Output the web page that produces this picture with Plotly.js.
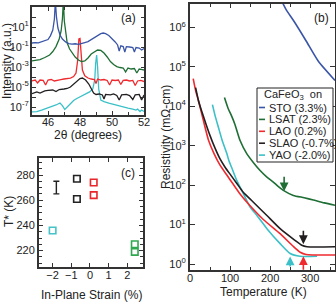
<!DOCTYPE html>
<html>
<head>
<meta charset="utf-8">
<script src="https://cdn.plot.ly/plotly-3.0.1.min.js"></script>
<style>html,body{margin:0;padding:0;background:#fff;}#chart{width:336px;height:303px;}</style>
</head>
<body>
<div id="chart"></div>
<script>
// ---------- Panel (a): XRD intensity vs 2theta ----------
const stoX = [45.0,45.2,45.4,45.6,45.8,46.0,46.15,46.3,46.4,46.46,46.53,46.62,46.75,46.9,47.1,47.3,47.5,47.7,47.9,48.1,48.3,48.5,48.7,48.9,49.1,49.3,49.45,49.6,49.8,50.0,50.2,50.35,50.45,50.55,50.7,50.8,50.9,51.1,51.3,51.4,51.5,51.7,51.85,52.0];
const stoI = [2.5e-1,2.8e-1,2.6e-1,3.2e-1,4.0e-1,5.6e-1,1.3,5.0,63,4000,100,7.9,1.6,6.3e-1,3.2e-1,2.2e-1,1.9e-1,2.1e-1,1.8e-1,2.4e-1,2.8e-1,3.5e-1,5.6e-1,1.0,1.6,2.2,2.5,2.2,1.4,7.1e-1,3.2e-1,1.6e-1,4.0e-2,1.3e-1,1.1e-1,3.2e-2,1.1e-1,1.0e-1,8.9e-2,3.2e-2,8.9e-2,7.9e-2,5.0e-2,7.1e-2];

const lsatX = [45.0,45.3,45.5,45.8,46.1,46.3,46.5,46.7,46.82,46.9,46.96,47.02,47.1,47.2,47.35,47.5,47.7,47.9,48.1,48.3,48.5,48.7,48.9,49.1,49.3,49.5,49.7,49.9,50.1,50.3,50.5,50.7,50.85,51.0,51.2,51.4,51.55,51.7,51.9,52.0];
const lsatI = [4.0e-3,4.5e-3,5.6e-3,8.9e-3,1.6e-2,3.5e-2,1.1e-1,6.3e-1,4.0,63,4000,40,2.0,2.5e-1,6.3e-2,2.5e-2,1.0e-2,5.0e-3,3.5e-3,4.0e-3,7.9e-3,2.0e-2,3.5e-2,5.0e-2,4.5e-2,2.5e-2,1.0e-2,3.5e-3,1.8e-3,1.1e-3,8.9e-4,7.9e-4,3.2e-4,7.9e-4,6.3e-4,7.1e-4,2.5e-4,6.3e-4,5.6e-4,5.0e-4];

const laoX = [45.0,45.2,45.35,45.5,45.7,45.85,46.0,46.2,46.4,46.6,46.8,47.0,47.2,47.4,47.6,47.75,47.85,47.93,48.0,48.07,48.15,48.3,48.5,48.7,48.9,49.0,49.1,49.3,49.5,49.7,49.85,50.0,50.2,50.4,50.55,50.7,50.9,51.1,51.3,51.45,51.6,51.8,52.0];
const laoI = [4.0e-5,5.0e-5,2.5e-5,5.0e-5,4.5e-5,1.6e-5,5.0e-5,5.6e-5,4.0e-5,5.0e-5,5.6e-5,6.3e-5,7.1e-5,7.9e-5,1.1e-4,2.5e-4,4.0e-3,6.3e-1,7.1e-1,3.2e-2,5.0e-4,1.3e-4,7.9e-5,6.3e-5,5.6e-5,2.2e-5,6.3e-5,5.0e-5,5.6e-5,4.5e-5,1.6e-5,5.0e-5,4.5e-5,5.0e-5,1.8e-5,4.5e-5,5.0e-5,4.0e-5,4.5e-5,1.4e-5,4.0e-5,4.5e-5,3.5e-5];

const slaoX = [45.0,45.3,45.5,45.8,46.0,46.3,46.5,46.7,47.0,47.2,47.4,47.6,47.8,48.0,48.15,48.35,48.55,48.7,48.85,49.0,49.2,49.4,49.5,49.6,49.9,50.1,50.3,50.45,50.6,50.9,51.1,51.3,51.45,51.7,51.85,52.0];
const slaoI = [2.2e-6,3.2e-6,2.5e-6,4.0e-6,4.5e-6,5.0e-6,3.5e-6,5.6e-6,6.3e-6,7.1e-6,1.0e-5,1.8e-5,3.5e-5,7.1e-5,7.9e-5,5.0e-5,2.0e-5,7.9e-6,2.5e-6,1.8e-6,2.0e-6,1.6e-6,6.3e-7,1.8e-6,1.6e-6,2.0e-6,1.4e-6,5.0e-7,1.6e-6,1.8e-6,1.4e-6,5.6e-7,1.6e-6,1.8e-6,5.0e-7,1.6e-6];

const yaoX = [45.0,45.3,45.6,45.9,46.2,46.5,46.75,46.9,47.05,47.2,47.4,47.6,47.8,48.0,48.2,48.4,48.6,48.8,48.92,48.98,49.04,49.1,49.17,49.3,49.5,49.8,50.1,50.4,50.7,51.0,51.3,51.5,51.6,51.75,51.85,52.0];
const yaoI = [3.2e-8,3.5e-8,5.0e-8,7.1e-8,1.0e-7,1.6e-7,2.5e-7,1.4e-7,5.6e-8,1.0e-7,2.5e-7,4.5e-7,7.1e-7,1.0e-6,1.4e-6,2.0e-6,3.2e-6,6.3e-6,5.0e-5,2.5e-3,1.6e-2,1.0e-3,6.3e-6,5.0e-7,3.5e-7,2.5e-7,1.8e-7,1.3e-7,1.0e-7,7.9e-8,6.3e-8,5.0e-8,6.3e-8,3.5e-8,5.0e-8,3.5e-8];

const xrdTickVals = [1e-7,1e-6,1e-5,1e-4,1e-3,1e-2,1e-1,1,10,100,1000];
const xrdTickText = ['10<sup>-7</sup>',' ','10<sup>-5</sup>',' ','10<sup>-3</sup>',' ','10<sup>-1</sup>',' ','10<sup>1</sup>',' ','10<sup>3</sup>'];

// ---------- Panel (b): resistivity vs temperature ----------
const stoT = [225,240,260,290,320,362];
const stoR = [5.6e6,2.8e6,1.4e6,4.5e5,1.4e5,4.5e4];
const lsatT = [86,95,104,112,125,142,160,175,192,208,220,233,258,285,308,335,362];
const lsatR = [1.66e4,8.9e3,5.6e3,3.5e3,1.35e3,6.2e2,3.55e2,2.35e2,1.6e2,1.2e2,93,74,55,48,42,35.5,31];
const laoT = [8,14,21,33,46,60,75,92,108,125,150,183,225,258,275,290,362];
const laoR = [5.0e4,2.5e4,1.4e4,4.5e3,1.4e3,6.3e2,3.2e2,1.8e2,1.05e2,60,30,13.5,5.9,2.8,2.0,1.75,1.7];
const slaoT = [14,21,29,40,50,62,75,88,100,117,133,157,192,225,262,279,292,362];
const slaoR = [2.95e4,1.4e4,7.6e3,3.5e3,1.8e3,8.9e2,4.6e2,2.8e2,1.9e2,1.1e2,66,38,17,7.9,4.0,3.0,2.75,2.75];
const yaoT = [56,63,71,80,92,97,104,117,130,142,150,168,192,225,250,275,317];
const yaoR = [1.1e4,5.6e3,2.9e3,1.4e3,6.3e2,4.2e2,2.8e2,1.3e2,71,40,28,16.6,7.9,3.3,1.86,1.58,1.58];

const resTickVals = [1,10,100,1000,1e4,1e5,1e6];
const resTickText = ['10<sup>0</sup>','10<sup>1</sup>','10<sup>2</sup>','10<sup>3</sup>','10<sup>4</sup>','10<sup>5</sup>','10<sup>6</sup>'];

// arrows marking T* : [LSAT, SLAO, LAO, YAO]
const arrowT    = [235, 283, 283, 250];
const arrowTip  = [70, 3.2, 1.58, 1.55];
const arrowTail = [178, 7.6, 0.66, 0.79];

const legendTitle = 'CaFeO<sub>3</sub>  on';
const legendNames = ['STO (3.3%)','LSAT (2.3%)','LAO (0.2%)','SLAO (-0.7%)','YAO (-2.0%)'];

// ---------- Panel (c): T* vs in-plane strain ----------
const strainBlack = [-0.7,-0.7];  const tstarBlack = [277,261];
const strainRed   = [0.2,0.2];    const tstarRed   = [274,264];
const strainCyan  = [-2.0];       const tstarCyan  = [236];
const strainGreen = [2.4,2.4];    const tstarGreen = [225,219];
const errStrain = [-1.8]; const errT = [270]; const errSize = [5];

// ---------- styling ----------
const C = {sto:'#3a55a8', lsat:'#1f6e35', lao:'#ee2a2f', slao:'#231f20', yao:'#3cc0c8'};
const legendColors = [C.sto, C.lsat, C.lao, C.slao, C.yao];
const CC = {black:'#222222', red:'#e8262b', cyan:'#45c3c8', green:'#2fa84f'};
const FONT = 'Liberation Sans, Arial, Helvetica, sans-serif';
const W = 336, H = 303;
const PX = v => v / W;
const PY = v => 1 - v / H;

const lineTr = (x, y, color, xa, ya, shape) => ({
  x: x, y: y, xaxis: xa, yaxis: ya, type: 'scatter', mode: 'lines',
  line: {color: color, width: xa === 'x' ? 1.3 : 1.6, shape: shape || 'linear', smoothing: 0.6},
  hoverinfo: 'skip', showlegend: false, cliponaxis: true
});
const sqTr = (x, y, color) => ({
  x: x, y: y, xaxis: 'x3', yaxis: 'y3', type: 'scatter', mode: 'markers',
  marker: {symbol: 'square-open', size: 6.5, color: color, line: {width: 1.6, color: color}},
  showlegend: false, hoverinfo: 'skip'
});

const traces = [
  lineTr(yaoX, yaoI, C.yao, 'x', 'y'),
  lineTr(slaoX, slaoI, C.slao, 'x', 'y'),
  lineTr(laoX, laoI, C.lao, 'x', 'y'),
  lineTr(lsatX, lsatI, C.lsat, 'x', 'y'),
  lineTr(stoX, stoI, C.sto, 'x', 'y'),

  lineTr(stoT, stoR, C.sto, 'x2', 'y2', 'spline'),
  lineTr(lsatT, lsatR, C.lsat, 'x2', 'y2', 'spline'),
  lineTr(yaoT, yaoR, C.yao, 'x2', 'y2', 'spline'),
  lineTr(laoT, laoR, C.lao, 'x2', 'y2', 'spline'),
  lineTr(slaoT, slaoR, C.slao, 'x2', 'y2', 'spline'),

  sqTr(strainBlack, tstarBlack, CC.black),
  sqTr(strainRed, tstarRed, CC.red),
  sqTr(strainCyan, tstarCyan, CC.cyan),
  sqTr(strainGreen, tstarGreen, CC.green),
  {x: errStrain, y: errT, xaxis: 'x3', yaxis: 'y3', type: 'scatter', mode: 'markers',
   marker: {size: 1, color: 'rgba(0,0,0,0)'},
   error_y: {type: 'data', array: errSize, visible: true, color: '#222', thickness: 1.4, width: 3},
   showlegend: false, hoverinfo: 'skip'}
];

const axBase = {
  showline: true, linecolor: '#333', linewidth: 2, mirror: 'allticks',
  ticks: 'inside', ticklen: 4, tickwidth: 1, tickcolor: '#333',
  showgrid: false, zeroline: false, fixedrange: true,
  tickfont: {family: FONT, size: 11, color: '#222'}
};
const minor = (d) => ({dtick: d, ticks: 'inside', ticklen: 3, tickwidth: 1, tickcolor: '#333', showgrid: false});

const layout = {
  width: W, height: H, margin: {l: 0, r: 0, t: 0, b: 0},
  paper_bgcolor: '#fff', plot_bgcolor: '#fff', showlegend: false,
  font: {family: FONT, size: 11, color: '#222'},
  // (a)
  xaxis: Object.assign({}, axBase, {domain: [PX(32), PX(144)], anchor: 'y', range: [45, 52],
    tickmode: 'linear', tick0: 46, dtick: 2, minor: minor(1), ticklabelstandoff: -4}),
  yaxis: Object.assign({}, axBase, {domain: [PY(115), PY(7)], anchor: 'x', type: 'log', range: [-7.8, 3],
    tickmode: 'array', tickvals: xrdTickVals, ticktext: xrdTickText, ticklen: 3.5, ticklabelstandoff: -1}),
  // (b)
  xaxis2: Object.assign({}, axBase, {domain: [PX(190), PX(335)], anchor: 'y2', range: [0, 362],
    tickmode: 'linear', tick0: 0, dtick: 100, minor: minor(50), ticklabelstandoff: -3}),
  yaxis2: Object.assign({}, axBase, {domain: [PY(270), PY(4)], anchor: 'x2', type: 'log', range: [-0.15, 6.59],
    tickmode: 'array', tickvals: resTickVals, ticktext: resTickText, ticklen: 5}),
  // (c)
  xaxis3: Object.assign({}, axBase, {domain: [PX(39), PX(143)], anchor: 'y3', range: [-2.73, 2.84],
    tickmode: 'linear', tick0: 0, dtick: 1, ticklabelstandoff: -3}),
  yaxis3: Object.assign({}, axBase, {domain: [PY(267), PY(158)], anchor: 'x3', range: [207, 293.5],
    tickmode: 'linear', tick0: 200, dtick: 20, minor: minor(5)}),
  shapes: [],
  annotations: []
};

const ann = (text, x, y, opts) => Object.assign({
  text: text, xref: 'paper', yref: 'paper', x: PX(x), y: PY(y),
  showarrow: false, font: {family: FONT, size: 12, color: '#222'},
  xanchor: 'center', yanchor: 'middle'
}, opts || {});

layout.annotations.push(
  ann('Intensity (a.u.)', 7, 61, {textangle: -90}),
  ann('2θ (degrees)', 88, 135),
  ann('(a)', 128, 18),
  ann('Resistivity (mΩ-cm)', 166, 137, {textangle: -90}),
  ann('Temperature (K)', 263, 292),
  ann('(b)', 321, 18),
  ann('T* (K)', 9, 212, {textangle: -90}),
  ann('In-Plane Strain (%)', 91, 295),
  ann('(c)', 128, 173)
);

// T* arrows in (b)
const arrowColors = [C.lsat, C.slao, C.lao, C.yao];
arrowT.forEach((t, i) => {
  layout.annotations.push({
    xref: 'x2', yref: 'y2', axref: 'x2', ayref: 'y2',
    x: t, y: Math.log10(arrowTip[i]), ax: t, ay: Math.log10(arrowTail[i]),
    text: '', showarrow: true, arrowhead: 2, arrowsize: 1.1, arrowwidth: 1.6,
    arrowcolor: arrowColors[i], standoff: 0, startstandoff: 0
  });
});

// legend box for (b)
layout.shapes.push({type: 'rect', xref: 'paper', yref: 'paper', x0: PX(257), x1: PX(333), y0: PY(162), y1: PY(88),
  line: {color: '#222', width: 1}, fillcolor: '#fff', layer: 'above'});
layout.annotations.push(ann(legendTitle, 293, 95, {font: {family: FONT, size: 11, color: '#222'}}));
legendNames.forEach((name, i) => {
  const yy = 107.5 + i * 11.9;
  layout.shapes.push({type: 'line', xref: 'paper', yref: 'paper', x0: PX(259), x1: PX(265), y0: PY(yy), y1: PY(yy),
    line: {color: legendColors[i], width: 1.6}, layer: 'above'});
  layout.annotations.push(ann(name, 267, yy, {xanchor: 'left', font: {family: FONT, size: 11, color: '#222'}}));
});

Plotly.newPlot('chart', traces, layout, {displayModeBar: false, staticPlot: true});
</script>
</body>
</html>
